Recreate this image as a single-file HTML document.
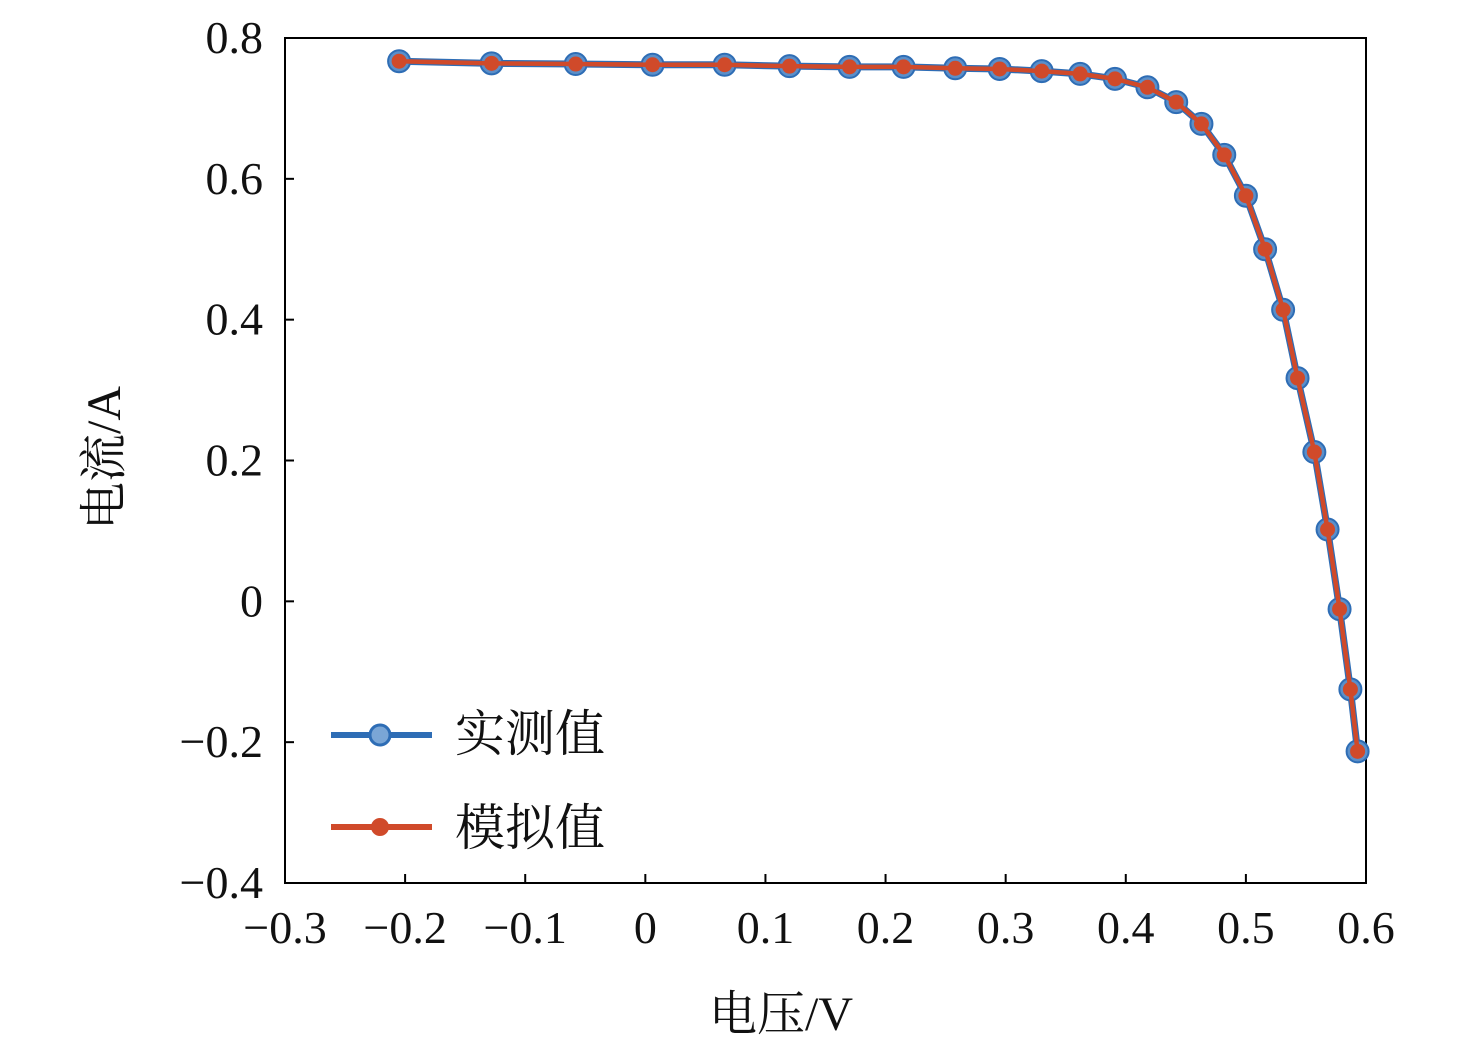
<!DOCTYPE html>
<html><head><meta charset="utf-8">
<style>
html,body{margin:0;padding:0;background:#fff;}
svg{display:block;font-family:"Liberation Serif","Times New Roman","Noto Serif CJK SC",serif;}
</style></head>
<body>
<svg id="chart" width="1476" height="1053" viewBox="0 0 1476 1053" xmlns="http://www.w3.org/2000/svg"></svg>
<script>
const voltage = [-0.205,-0.128,-0.058,0.006,0.066,0.120,0.170,0.215,0.258,0.295,0.330,0.362,0.391,0.418,0.442,0.463,0.482,0.500,0.516,0.531,0.543,0.557,0.568,0.578,0.587,0.593];
const measured = [0.767,0.764,0.763,0.762,0.762,0.760,0.759,0.759,0.757,0.756,0.753,0.749,0.742,0.730,0.709,0.678,0.634,0.576,0.500,0.414,0.317,0.212,0.102,-0.011,-0.125,-0.213];
const simulated = [0.767,0.764,0.763,0.762,0.762,0.760,0.759,0.759,0.757,0.756,0.753,0.749,0.742,0.730,0.709,0.678,0.634,0.576,0.500,0.414,0.317,0.212,0.102,-0.011,-0.125,-0.213];
const xTicks = [-0.3,-0.2,-0.1,0,0.1,0.2,0.3,0.4,0.5,0.6];
const xTickLabels = ["\u22120.3","\u22120.2","\u22120.1","0","0.1","0.2","0.3","0.4","0.5","0.6"];
const yTicks = [-0.4,-0.2,0,0.2,0.4,0.6,0.8];
const yTickLabels = ["\u22120.4","\u22120.2","0","0.2","0.4","0.6","0.8"];

const L=285,R=1366,T=38,B=883;
const xMin=-0.3,xMax=0.6,yMin=-0.4,yMax=0.8;
const sx=v=>L+(v-xMin)/(xMax-xMin)*(R-L);
const sy=v=>B-(v-yMin)/(yMax-yMin)*(B-T);
const svg=document.getElementById('chart');
const NS='http://www.w3.org/2000/svg';
function mk(tag,attrs,parent){const e=document.createElementNS(NS,tag);for(const k in attrs)e.setAttribute(k,attrs[k]);(parent||svg).appendChild(e);return e;}

const frame=mk('rect',{x:L,y:T,width:R-L,height:B-T,fill:'none',stroke:'#000','stroke-width':2});



xTicks.forEach((v,i)=>{
  const t=mk('line',{x1:sx(v),x2:sx(v),y1:B,y2:B-9,stroke:'#000','stroke-width':2});
  
  
  const tx=mk('text',{x:sx(v),y:943,'text-anchor':'middle','font-size':46,fill:'#111'});
  tx.textContent=xTickLabels[i];
  
  
});
yTicks.forEach((v,i)=>{
  const t=mk('line',{x1:L,x2:L+9,y1:sy(v),y2:sy(v),stroke:'#000','stroke-width':2});
  
  
  const tx=mk('text',{x:263,y:sy(v)+15,'text-anchor':'end','font-size':46,fill:'#111'});
  tx.textContent=yTickLabels[i];
  
  
});

const xl=mk('text',{x:781,y:1030,'text-anchor':'middle','font-size':48,fill:'#111'});
xl.textContent='电压/V';


const yl=mk('text',{x:0,y:0,'text-anchor':'middle','font-size':48,fill:'#111',transform:'translate(120,458) rotate(-90)'});
yl.textContent='电流/A';



const blueLine=mk('polyline',{points:voltage.map((v,i)=>sx(v)+','+sy(measured[i])).join(' '),fill:'none',stroke:'#2e6db5','stroke-width':7});


voltage.forEach((v,i)=>{
  const c=mk('circle',{cx:sx(v),cy:sy(measured[i]),r:11,fill:'#5b8fc9',stroke:'#2e6db5','stroke-width':2});
  
  
});
const redLine=mk('polyline',{points:voltage.map((v,i)=>sx(v)+','+sy(simulated[i])).join(' '),fill:'none',stroke:'#d04a2a','stroke-width':4.5});


voltage.forEach((v,i)=>{
  const c=mk('circle',{cx:sx(v),cy:sy(simulated[i]),r:7.5,fill:'#d04a2a'});
  
  
});

const l1=mk('line',{x1:331,x2:432,y1:735,y2:735,stroke:'#2e6db5','stroke-width':6});


const c1=mk('circle',{cx:380,cy:735,r:10,fill:'#7aa6d6',stroke:'#2e6db5','stroke-width':3});


const t1=mk('text',{x:455,y:751,'font-size':50,fill:'#111'});
t1.textContent='实测值';


const l2=mk('line',{x1:331,x2:432,y1:827,y2:827,stroke:'#d04a2a','stroke-width':6});


const c2=mk('circle',{cx:380,cy:827,r:9,fill:'#d04a2a'});


const t2=mk('text',{x:455,y:845,'font-size':50,fill:'#111'});
t2.textContent='模拟值';


</script>
</body></html>
